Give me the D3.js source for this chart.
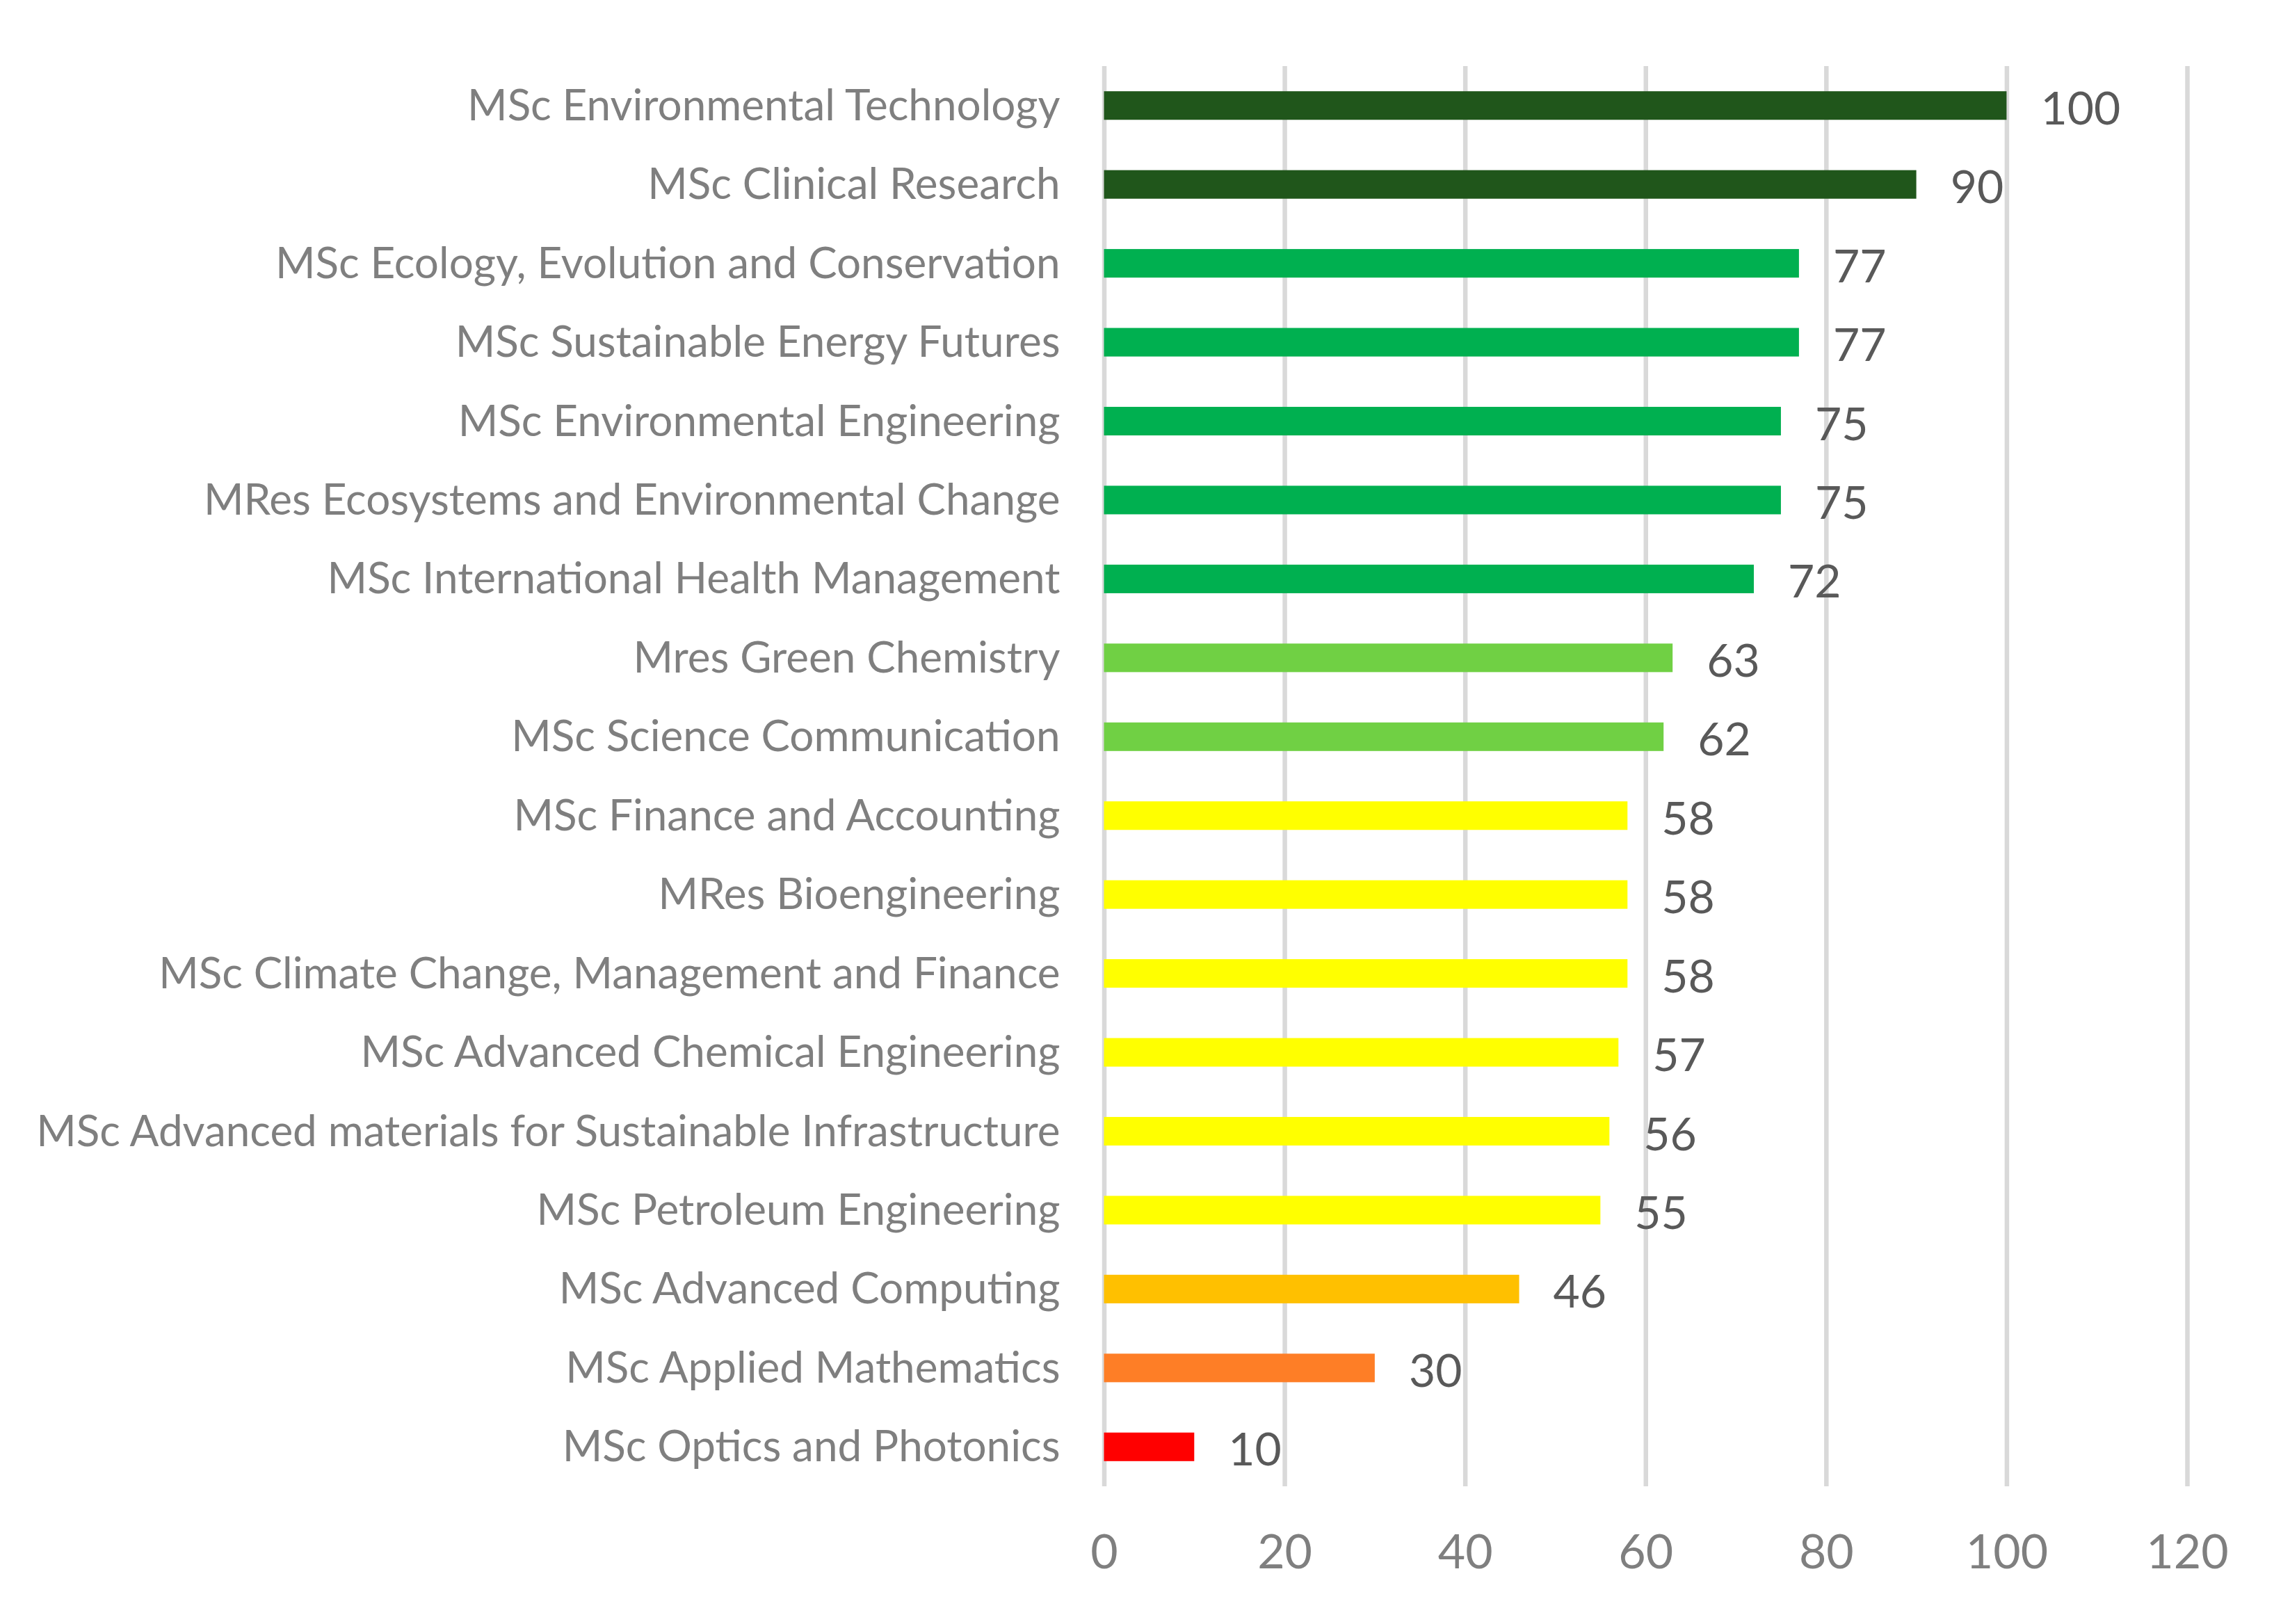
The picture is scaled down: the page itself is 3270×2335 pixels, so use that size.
<!DOCTYPE html>
<html lang="en">
<head>
  <meta charset="UTF-8" />
  <title>Programme scores</title>
  <script src="https://d3js.org/d3.v7.min.js"></script>
  <style>
    body {
      margin: 0;
      background: #ffffff;
      font-family: "Lato", sans-serif;
    }
    svg {
      display: block;
      background: #ffffff;
    }
    .grid line {
      stroke: #d9d9d9;
      stroke-width: 6.5;
    }
    .grid text {
      font-size: 68px;
      fill: #7f7f7f;
    }
    .cats text {
      font-size: 62px;
      fill: #7f7f7f;
    }
    .value-label {
      font-size: 66px;
      fill: #595959;
    }
  </style>
</head>
<body>
<svg id="chart"></svg>

<script>
const categories = [
  "MSc Environmental Technology",
  "MSc Clinical Research",
  "MSc Ecology, Evolution and Conservation",
  "MSc Sustainable Energy Futures",
  "MSc Environmental Engineering",
  "MRes Ecosystems and Environmental Change",
  "MSc International Health Management",
  "Mres Green Chemistry",
  "MSc Science Communication",
  "MSc Finance and Accounting",
  "MRes Bioengineering",
  "MSc Climate Change, Management and Finance",
  "MSc Advanced Chemical Engineering",
  "MSc Advanced materials for Sustainable Infrastructure",
  "MSc Petroleum Engineering",
  "MSc Advanced Computing",
  "MSc Applied Mathematics",
  "MSc Optics and Photonics"
];
const values = [100, 90, 77, 77, 75, 75, 72, 63, 62, 58, 58, 58, 57, 56, 55, 46, 30, 10];
const xTicks = [0, 20, 40, 60, 80, 100, 120];

// score bands -> bar colour
const tierBreaks = [20, 40, 50, 60, 70, 90];
const tierColors = ["#ff0000", "#fe7e26", "#ffc000", "#ffff00", "#70d044", "#00b050", "#20561b"];

const width = 3270, height = 2335;
const plot = { left: 1587.5, right: 3145, top: 95, bottom: 2137 };

const svg = d3.select("#chart").attr("width", width).attr("height", height);

const x = d3.scaleLinear().domain([0, 120]).range([plot.left, plot.right]);
const y = d3.scaleBand().domain(categories).range([plot.top, plot.bottom])
  .paddingInner(0.638).paddingOuter(0.319);
const color = d3.scaleThreshold().domain(tierBreaks).range(tierColors);

// vertical gridlines + bottom tick labels
const grid = svg.append("g")
  .attr("class", "grid")
  .attr("transform", `translate(0,${plot.bottom})`)
  .call(d3.axisBottom(x).tickValues(xTicks).tickSize(-(plot.bottom - plot.top)).tickPadding(70));
grid.select(".domain").remove();
grid.selectAll("text").attr("font-family", "Lato, sans-serif");

// category labels
const cats = svg.append("g")
  .attr("class", "cats")
  .attr("transform", `translate(${plot.left},0)`)
  .call(d3.axisLeft(y).tickSize(0).tickPadding(63));
cats.select(".domain").remove();
cats.selectAll("text").attr("dy", "0.34em").attr("font-family", "Lato, sans-serif");

const rows = categories.map((c, i) => ({ name: c, value: values[i] }));

svg.append("g")
  .selectAll("rect")
  .data(rows)
  .join("rect")
  .attr("x", x(0))
  .attr("y", d => y(d.name))
  .attr("width", d => x(d.value) - x(0))
  .attr("height", y.bandwidth())
  .attr("fill", d => color(d.value));

svg.append("g")
  .selectAll("text")
  .data(rows)
  .join("text")
  .attr("class", "value-label")
  .attr("x", d => x(d.value) + 49)
  .attr("y", d => y(d.name) + y.bandwidth() / 2 + 27)
  .text(d => d.value);
</script>
</body>
</html>
